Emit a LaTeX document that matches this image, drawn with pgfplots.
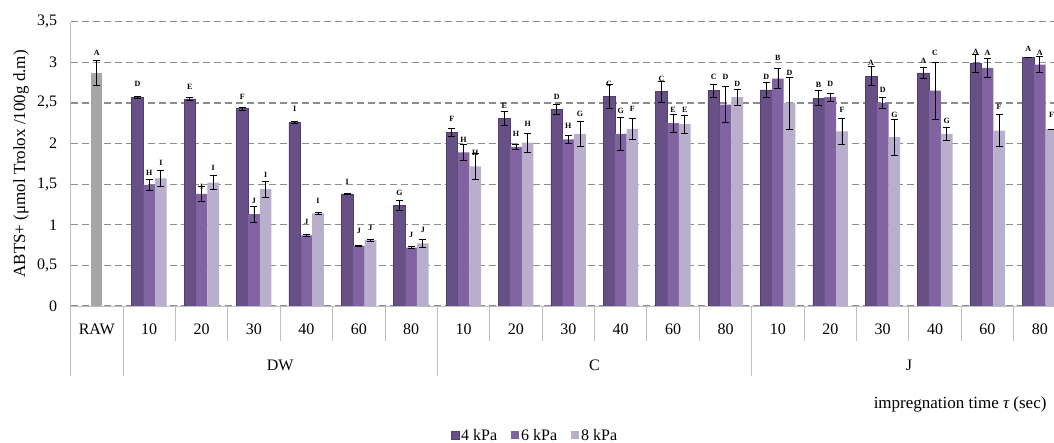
\documentclass[border=0pt]{standalone}
\usepackage{fontspec}
\setmainfont{Liberation Serif}
\usepackage{pgfplots}
\pgfplotsset{compat=1.18}
\usepackage{pgfplotstable}
\newcommand\fs[1]{\fontsize{#1}{#1}\selectfont}
\definecolor{cD}{RGB}{102,80,134}
\definecolor{cDb}{RGB}{82,62,110}
\definecolor{cM}{RGB}{128,99,160}
\definecolor{cL}{RGB}{185,174,204}
\definecolor{cR}{RGB}{166,166,166}
\definecolor{gridc}{RGB}{140,140,140}
\definecolor{sepc}{RGB}{190,190,190}

\pgfplotstableread{
x y e l ly
0 2.87 0.15 A 3.12
}\tRaw

\pgfplotstableread{
x y e l ly
1 2.57 0.01 D 2.73
2 2.55 0.02 E 2.70
3 2.43 0.02 F 2.58
4 2.26 0.01 I 2.43
5 1.38 0.01 I 1.53
6 1.24 0.06 G 1.39
7 2.14 0.05 F 2.30
8 2.31 0.09 E 2.46
9 2.42 0.06 D 2.58
10 2.58 0.15 C 2.73
11 2.64 0.13 C 2.80
12 2.65 0.08 C 2.82
13 2.66 0.09 D 2.82
14 2.56 0.09 B 2.72
15 2.83 0.12 A 2.99
16 2.87 0.07 A 3.02
17 2.99 0.11 A 3.13
18 3.06 0.00 A 3.16
}\tD

\pgfplotstableread{
x y e l ly
1 1.49 0.07 H 1.64
2 1.38 0.09 I 1.47
3 1.13 0.10 J 1.29
4 0.87 0.01 J 1.03
5 0.74 0.01 J 0.92
6 0.72 0.01 J 0.88
7 1.89 0.10 H 2.05
8 1.96 0.03 H 2.12
9 2.05 0.05 H 2.22
10 2.12 0.20 G 2.40
11 2.25 0.11 E 2.41
12 2.48 0.22 D 2.82
13 2.80 0.125 B 3.05
14 2.57 0.05 D 2.74
15 2.50 0.07 D 2.66
16 2.65 0.35 C 3.11
17 2.93 0.12 A 3.12
18 2.97 0.10 A 3.12
}\tM

\pgfplotstableread{
x y e l ly
1 1.57 0.10 I 1.76
2 1.52 0.09 I 1.70
3 1.44 0.10 I 1.61
4 1.14 0.01 I 1.29
5 0.81 0.01 J 0.96
6 0.77 0.05 J 0.94
7 1.72 0.16 H 1.88
8 2.01 0.12 H 2.24
9 2.12 0.15 G 2.36
10 2.18 0.13 F 2.43
11 2.24 0.11 E 2.41
12 2.57 0.10 D 2.73
13 2.50 0.32 D 2.87
14 2.15 0.16 F 2.41
15 2.08 0.22 G 2.35
16 2.12 0.08 G 2.28
17 2.16 0.20 F 2.45
18 2.18 0.00 F 2.35
}\tL

\pgfplotsset{
  err/.style={error bars/y dir=both, error bars/y explicit,
    error bars/error bar style={black, line width=0.8pt},
    error bars/error mark options={black, rotate=90, mark size=3.5pt, line width=0.8pt}},
  lbl/.style={nodes near coords, point meta=explicit symbolic,
    visualization depends on={\thisrow{ly} \as \labY},
    visualization depends on={\thisrow{y} \as \valY},
    nodes near coords style={anchor=center, yshift={81.23*(\labY-\valY)}, font=\fs{8}\bfseries, text=black, inner sep=0pt}},
  sq/.style={legend image code/.code={\fill[##1] (0pt,-4pt) rectangle (8pt,4pt);}},
}

\begin{document}
\begin{tikzpicture}
\useasboundingbox (-70.6pt,-137pt) rectangle (983.4pt,306pt);
\begin{axis}[
  scale only axis, width=983.4pt, height=284.3pt,
  xmin=-0.5, xmax=18.27, ymin=0, ymax=3.5,
  clip mode=individual,
  axis x line=bottom, axis y line=left,
  axis line style={-, draw=sepc, line width=0.9pt},
  ytick={0,0.5,1,1.5,2,2.5,3,3.5},
  yticklabel style={/pgf/number format/use comma, /pgf/number format/assume math mode=true, font=\fs{16}, xshift=-10pt},
  xtick={0,...,18},
  xticklabels={RAW,10,20,30,40,60,80,10,20,30,40,60,80,10,20,30,40,60,80},
  xticklabel style={font=\fs{16}, anchor=base, yshift=-28.3pt},
  minor xtick={0.5,1.5,...,17.5},
  tick align=outside,
  major tick length=0pt,
  minor tick length=35pt,
  tick style={draw=sepc, line width=0.9pt},
  extra x ticks={-0.5,0.5,6.5,12.5},
  extra x tick labels={},
  extra x tick style={major tick length=70pt, tick align=outside, grid=none},
  ymajorgrids=true,
  major grid style={gridc, line width=1.3pt, dash pattern=on 7pt off 4pt},
  every axis y label/.style={at={(axis description cs:-0.0504,0.5)}, rotate=90, anchor=center, font=\fs{17}},
  ylabel={ABTS+ (μmol Trolox /100g d.m)},
  legend columns=3,
  legend style={at={(0.4722,-0.455)}, anchor=center, draw=none, fill=none, font=\fs{16},
    inner sep=1pt, /tikz/every even column/.append style={column sep=12pt}},
]
\addplot[ybar, bar width=0.204, bar shift=0, fill=cR, draw=none, forget plot, err, lbl]
  table[x=x, y=y, y error=e, meta=l] {\tRaw};
\addplot[ybar, bar width=0.223, bar shift=0, fill=cD, draw=cDb, line width=0.5pt, sq, err, lbl]
  table[x expr=\thisrow{x}-0.223, y=y, y error=e, meta=l] {\tD};
\addlegendentry{4 kPa}
\addplot[ybar, bar width=0.223, bar shift=0, fill=cM, draw=none, sq, err, lbl]
  table[x=x, y=y, y error=e, meta=l] {\tM};
\addlegendentry{6 kPa}
\addplot[ybar, bar width=0.223, bar shift=0, fill=cL, draw=none, sq, err, lbl]
  table[x expr=\thisrow{x}+0.223, y=y, y error=e, meta=l] {\tL};
\addlegendentry{8 kPa}
\node[anchor=base, font=\fs{16}, yshift=-64.3pt] at (axis cs:3.5,0) {DW};
\node[anchor=base, font=\fs{16}, yshift=-64.3pt] at (axis cs:9.5,0) {C};
\node[anchor=base, font=\fs{16}, yshift=-64.3pt] at (axis cs:15.5,0) {J};
\end{axis}
\node[anchor=base east, font=\fs{17}] at (979.4pt,-103pt) {impregnation time {\itshape τ} (sec)};
\end{tikzpicture}
\end{document}
